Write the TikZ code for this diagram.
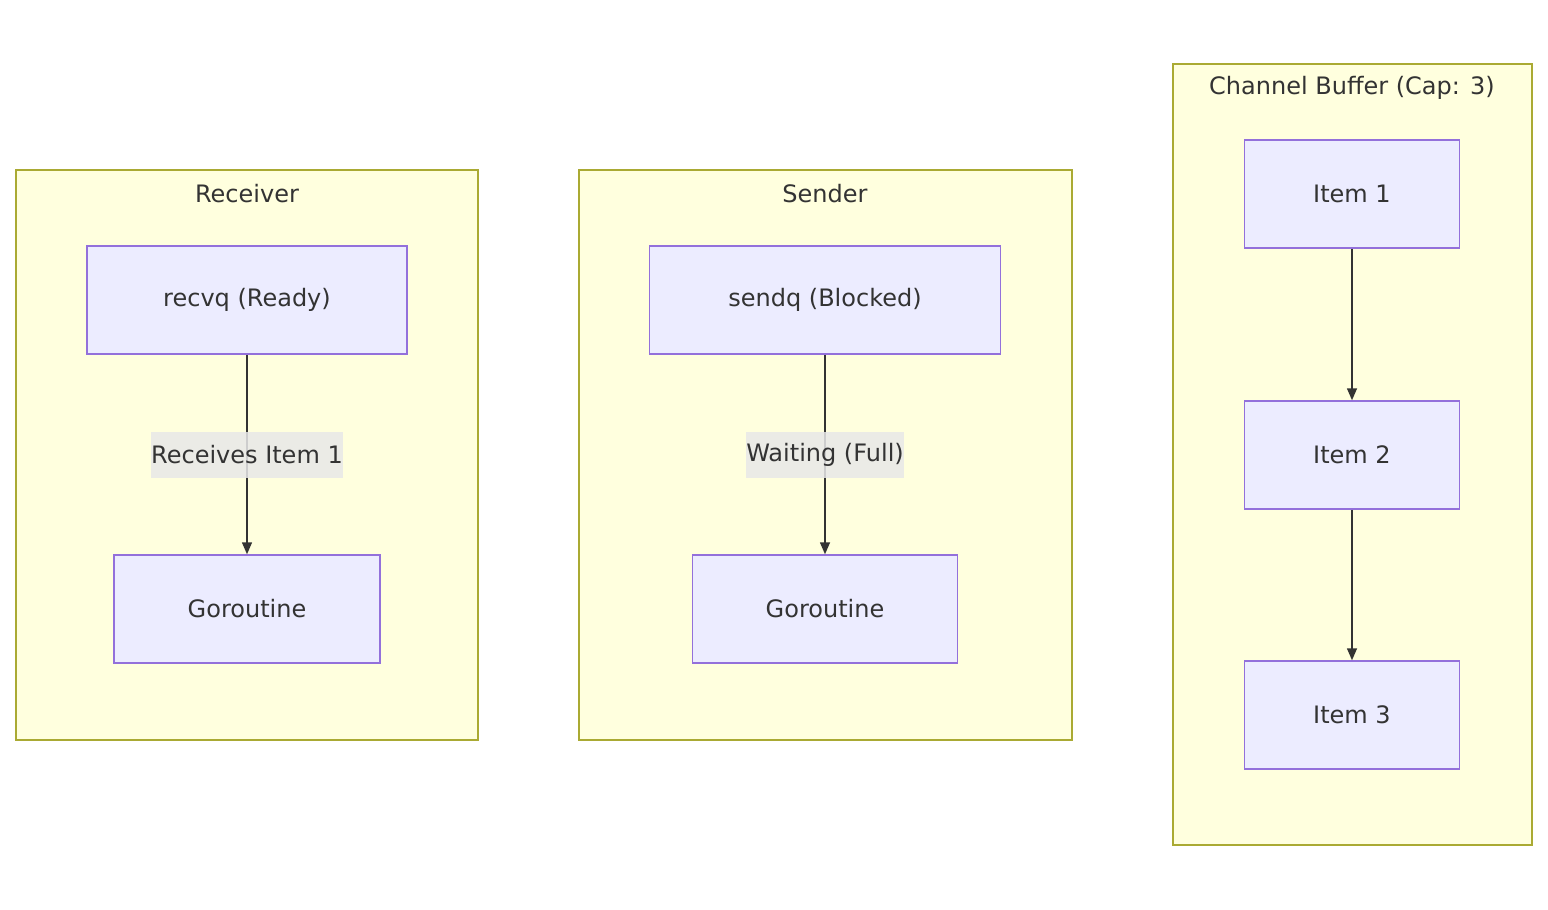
\documentclass[tikz,border=0pt]{standalone}
\usepackage{fontspec}
\setmainfont{DejaVu Sans}
\usetikzlibrary{arrows.meta}
\definecolor{cf}{HTML}{FFFFDE}\definecolor{cs}{HTML}{AAAA33}
\definecolor{nf}{HTML}{ECECFF}\definecolor{ns}{HTML}{9370DB}
\definecolor{tx}{HTML}{333333}\definecolor{lb}{HTML}{E8E8E8}
\begin{document}
\begin{tikzpicture}[x=1pt,y=-1pt,
 clus/.style={draw=cs,fill=cf,line width=1.5pt},
 box/.style={draw=ns,fill=nf,line width=1.5pt},
 txt/.style={text=tx,font=\fontsize{24}{28}\selectfont},
 lab/.style={fill=lb,fill opacity=0.85,text opacity=1,text=tx,font=\fontsize{24}{28}\selectfont,inner sep=0pt,minimum height=46pt},
 edge/.style={draw=tx,line width=1.5pt,-{Triangle[length=12pt,width=10pt]}}]
\useasboundingbox (0,0) rectangle (1548,910);
\fill[white] (0,0) rectangle (1548,910);
% clusters
\draw[clus] (16,170) rectangle (478,740);
\node[txt] (t1) at (247,194) {Receiver};
\draw[clus] (579,170) rectangle (1072,740);
\node[txt] (t2) at (825,194) {Sender};
\draw[clus] (1173,64) rectangle (1532,845);
\node[txt] (t3) at (1352,88) {Channel Buffer (Cap: 3)};
% nodes
\node[box,txt,minimum width=320pt,minimum height=108pt] (recvq) at (247,300) {recvq (Ready)};
\node[box,txt,minimum width=266pt,minimum height=108pt] (g1) at (247,609) {Goroutine};
\node[box,txt,minimum width=351pt,minimum height=108pt] (sendq) at (825,300) {sendq (Blocked)};
\node[box,txt,minimum width=265pt,minimum height=108pt] (g2) at (825,609) {Goroutine};
\node[box,txt,minimum width=215pt,minimum height=108pt] (i1) at (1352,194) {Item 1};
\node[box,txt,minimum width=215pt,minimum height=108pt] (i2) at (1352,455) {Item 2};
\node[box,txt,minimum width=215pt,minimum height=108pt] (i3) at (1352,715) {Item 3};
% edges
\draw[edge] (recvq) -- (g1);
\draw[edge] (sendq) -- (g2);
\draw[edge] (i1) -- (i2);
\draw[edge] (i2) -- (i3);
\node[lab] (l1) at (247,455) {Receives Item 1};
\node[lab] (l2) at (825,455) {Waiting (Full)};
\end{tikzpicture}
\end{document}
